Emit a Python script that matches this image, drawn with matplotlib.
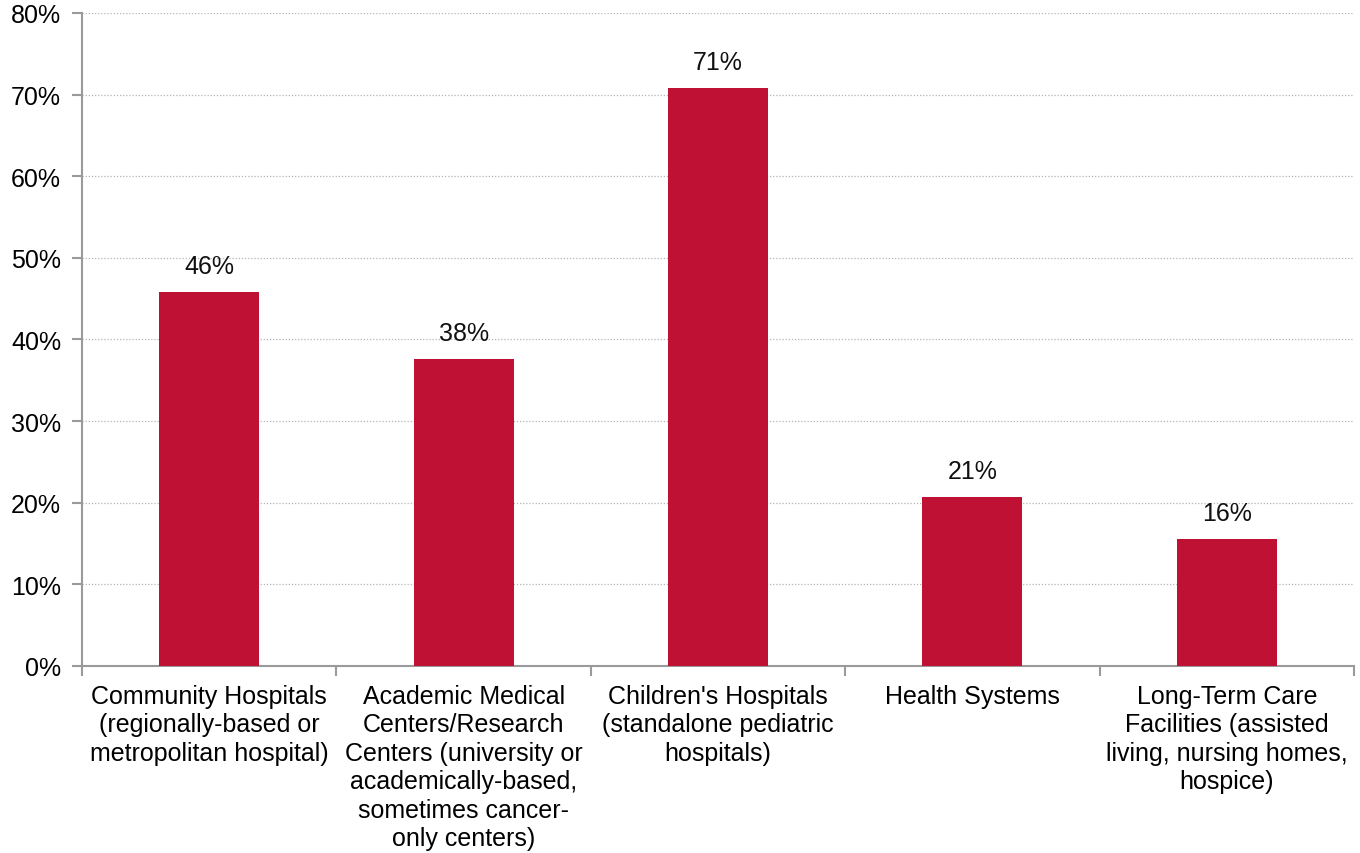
import matplotlib
matplotlib.use("Agg")
import matplotlib.pyplot as plt
from matplotlib.ticker import FixedLocator, PercentFormatter

categories = [
    "Community Hospitals\n(regionally-based or\nmetropolitan hospital)",
    "Academic Medical\nCenters/Research\nCenters (university or\nacademically-based,\nsometimes cancer-\nonly centers)",
    "Children's Hospitals\n(standalone pediatric\nhospitals)",
    "Health Systems",
    "Long-Term Care\nFacilities (assisted\nliving, nursing homes,\nhospice)",
]
shares = [45.8, 37.6, 70.8, 20.7, 15.6]
y_ticks = [0, 10, 20, 30, 40, 50, 60, 70, 80]

plt.rcParams['font.family'] = ['Liberation Sans', 'DejaVu Sans']
axis_grey = '#9a9a9a'
fs = 18

fig = plt.figure(figsize=(13.6, 8.54), dpi=100)
ax = fig.add_axes([0.0603, 0.219, 0.9353, 0.7647])

x = range(len(categories))
bars = ax.bar(x, shares, width=0.393, color='#BE1134', zorder=3)

for b, v in zip(bars, shares):
    ax.annotate(f"{v:.0f}%", (b.get_x() + b.get_width() / 2, v),
                xytext=(0, 10), textcoords='offset points',
                ha='center', va='bottom', fontsize=fs, color='#111111')

ax.set_xlim(-0.5, len(categories) - 0.5)
ax.set_ylim(0, 80)
ax.set_yticks(y_ticks)
ax.yaxis.set_major_formatter(PercentFormatter(decimals=0))
ax.tick_params(axis='y', labelsize=fs, length=7, color=axis_grey, width=1.5, pad=8)

# category labels sit between the boundary ticks
ax.set_xticks(list(x))
ax.set_xticklabels(categories, fontsize=fs, linespacing=1.23, va='top')
ax.tick_params(axis='x', which='major', length=0, pad=13)
ax.xaxis.set_minor_locator(FixedLocator([i - 0.5 for i in range(len(categories) + 1)]))
ax.tick_params(axis='x', which='minor', length=7, color=axis_grey, width=1.5)

ax.grid(axis='y', linestyle=(0, (1, 1.5)), color='#b5b5b5', linewidth=0.9, zorder=0)
for side in ['top', 'right']:
    ax.spines[side].set_visible(False)
for side in ['left', 'bottom']:
    ax.spines[side].set_color(axis_grey)
    ax.spines[side].set_linewidth(1.5)

fig.savefig("out.png", dpi=100)
